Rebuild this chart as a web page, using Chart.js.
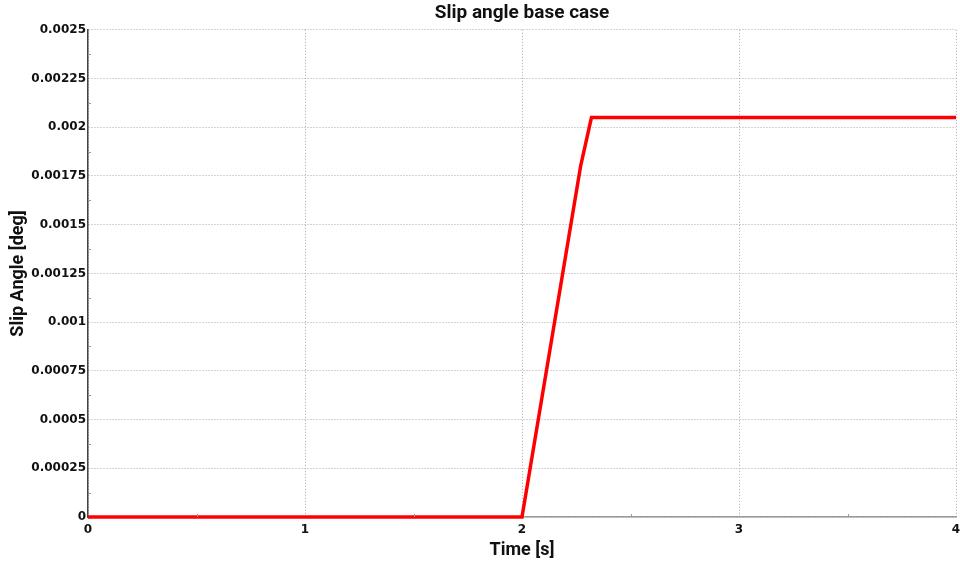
<!DOCTYPE html>
<html>
<head>
<meta charset="utf-8">
<script src="https://cdn.jsdelivr.net/npm/chart.js@4/dist/chart.umd.min.js"></script>
<style>
  html, body { margin: 0; padding: 0; background: #fff; }
  #wrap { width: 960px; height: 561px; }
</style>
</head>
<body>
<div id="wrap"><canvas id="chart-slip"></canvas></div>
<script>
// slip angle response, base case
const timeS    = [0, 2, 2.27, 2.32, 4];
const slipDeg  = [0, 0, 0.0018, 0.00205, 0.00205];
const xTicks   = [0, 1, 2, 3, 4];
const yTicks   = [0, 0.00025, 0.0005, 0.00075, 0.001, 0.00125, 0.0015, 0.00175, 0.002, 0.00225, 0.0025];

const gridStyle = { color: '#a8a8a8', lineWidth: 1, drawTicks: false, tickLength: 0 };
const tickFont  = { family: 'DejaVu Sans', size: 12, weight: 'bold' };
const axisTitleFont = { family: 'Roboto', size: 18, weight: 'bold' };

// small minor ticks half way between the major ones
const minorTicks = {
  id: 'minorTicks',
  afterDatasetsDraw(chart) {
    const { ctx, scales: { x, y }, chartArea: a } = chart;
    ctx.save();
    ctx.strokeStyle = '#999';
    ctx.lineWidth = 1;
    ctx.beginPath();
    for (let i = 0; i < yTicks.length - 1; i++) {
      const py = Math.round(y.getPixelForValue((yTicks[i] + yTicks[i + 1]) / 2)) + 0.5;
      ctx.moveTo(a.left, py); ctx.lineTo(a.left + 3, py);
    }
    for (let i = 0; i < xTicks.length - 1; i++) {
      const px = Math.round(x.getPixelForValue((xTicks[i] + xTicks[i + 1]) / 2)) + 0.5;
      ctx.moveTo(px, a.bottom); ctx.lineTo(px, a.bottom - 3);
    }
    ctx.stroke();
    ctx.restore();
  }
};

new Chart(document.getElementById('chart-slip'), {
  type: 'line',
  data: {
    datasets: [{
      label: 'Slip Angle',
      data: timeS.map((t, i) => ({ x: t, y: slipDeg[i] })),
      borderColor: '#ff0000', borderWidth: 3.5, pointRadius: 0, tension: 0,
      clip: false
    }]
  },
  options: {
    animation: false,
    responsive: true,
    maintainAspectRatio: false,
    layout: { padding: { left: 8, right: 4, top: 0, bottom: 0 } },
    plugins: {
      legend: { display: false },
      tooltip: { enabled: false },
      title: {
        display: true, text: 'Slip angle base case', fullSize: false,
        color: '#111', font: { family: 'Roboto', size: 19, weight: 'bold' },
        padding: { top: 2, bottom: 5 }
      }
    },
    scales: {
      x: {
        type: 'linear', min: 0, max: 4,
        afterBuildTicks: s => { s.ticks = xTicks.map(v => ({ value: v })); },
        afterFit: s => { s.height = 44; s.paddingRight = 0; s.paddingLeft = 0; },
        grid: gridStyle,
        border: { display: true, color: '#999', width: 1.5, dash: [1, 2] },
        ticks: { color: '#111', font: tickFont, padding: 6, maxRotation: 0 },
        title: { display: true, text: 'Time [s]', color: '#111', padding: { top: 0, bottom: 0 },
                 font: axisTitleFont }
      },
      y: {
        min: 0, max: 0.0025,
        afterBuildTicks: s => { s.ticks = yTicks.map(v => ({ value: v })); },
        afterFit: s => { s.width = 80; },
        grid: gridStyle,
        border: { display: true, color: '#444', width: 1.5, dash: [1, 2] },
        ticks: {
          color: '#111', font: tickFont, padding: 2,
          callback: v => String(+v.toPrecision(6))
        },
        title: { display: true, text: 'Slip Angle [deg]', color: '#111', padding: { top: 0, bottom: 0 },
                 font: axisTitleFont }
      }
    }
  },
  plugins: [minorTicks]
});
</script>
</body>
</html>
